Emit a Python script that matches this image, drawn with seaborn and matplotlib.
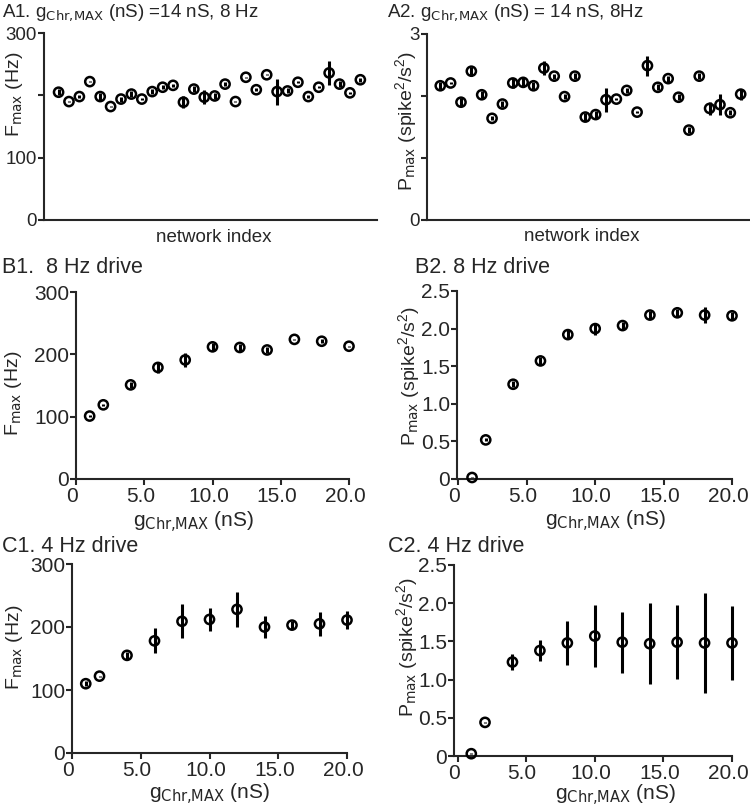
import numpy as np
import pandas as pd
import seaborn as sns
import matplotlib.pyplot as plt
from matplotlib.transforms import ScaledTranslation

# network sweep at g = 14 nS, 8 Hz
net_idx = list(range(1, 31))
a1_fmax = [205, 190, 198, 222, 198, 182, 194, 202, 194, 206, 213, 216, 189, 210, 197,
           199, 218, 190, 229, 209, 233, 206, 207, 221, 198, 213, 236, 218, 204, 225]
a1_err = [5, 1, 3, 1, 5, 1, 4, 5, 2, 4, 3, 2, 10, 5, 11,
          5, 3, 1, 1, 2, 1, 21, 4, 2, 2, 2, 19, 5, 2, 3]
a2_pmax = [2.165, 2.21, 1.90, 2.40, 2.02, 1.64, 1.87, 2.21, 2.22, 2.165, 2.45, 2.32, 1.99, 2.32, 1.66,
           1.70, 1.94, 1.95, 2.09, 1.74, 2.49, 2.14, 2.28, 1.98, 1.45, 2.32, 1.80, 1.86, 1.73, 2.03]
a2_err = [0.06, 0.01, 0.06, 0.07, 0.06, 0.03, 0.05, 0.08, 0.07, 0.06, 0.11, 0.04, 0.04, 0.05, 0.06,
          0.06, 0.19, 0.01, 0.04, 0.02, 0.16, 0.05, 0.05, 0.05, 0.05, 0.05, 0.10, 0.17, 0.04, 0.09]

# conductance sweeps
g_chr = [1, 2, 4, 6, 8, 10, 12, 14, 16, 18, 20]
b1_fmax = [101, 119, 151, 179, 191, 212, 211, 207, 224, 221, 213]
b1_err = [1, 2, 5, 9, 11, 6, 5, 5, 1, 3, 1]
b2_pmax = [0.02, 0.52, 1.26, 1.57, 1.92, 2.00, 2.04, 2.18, 2.21, 2.18, 2.17]
b2_err = [0.01, 0.02, 0.04, 0.05, 0.06, 0.08, 0.05, 0.05, 0.05, 0.11, 0.05]
c1_fmax = [110, 122, 155, 178, 209, 212, 228, 200, 203, 205, 211]
c1_err = [4, 1, 5, 20, 27, 18, 28, 17, 6, 19, 14]
c2_pmax = [0.03, 0.44, 1.23, 1.38, 1.48, 1.57, 1.49, 1.47, 1.49, 1.48, 1.48]
c2_err = [0.01, 0.01, 0.11, 0.14, 0.29, 0.40, 0.40, 0.53, 0.48, 0.66, 0.48]

sns.set_style('ticks')
plt.rcParams['font.family'] = ['Liberation Sans', 'DejaVu Sans']
plt.rcParams['mathtext.default'] = 'regular'
plt.rcParams['axes.linewidth'] = 1.5
plt.rcParams['xtick.major.width'] = 1.5
plt.rcParams['ytick.major.width'] = 1.5
plt.rcParams['xtick.major.size'] = 4
plt.rcParams['ytick.major.size'] = 4

W, H = 750, 808
fig = plt.figure(figsize=(7.5, 8.08), dpi=100)


def make_ax(left, top, right, bottom):
    return fig.add_axes([left / W, 1 - bottom / H, (right - left) / W, (bottom - top) / H])


def draw(ax, x, y, err):
    df = pd.DataFrame({'x': x, 'y': y, 'err': err})
    ax.errorbar(df['x'], df['y'], yerr=df['err'], fmt='none', ecolor='black',
                elinewidth=2.2, capsize=0, clip_on=False, zorder=2)
    sns.scatterplot(data=df, x='x', y='y', ax=ax, s=44, marker='o', color='black',
                    linewidth=1.8, clip_on=False, zorder=3, legend=False)
    ax.collections[-1].set_facecolor('none')
    ax.collections[-1].set_edgecolor('black')
    sns.despine(ax=ax)
    ax.tick_params(axis='y', pad=1)
    ax.tick_params(axis='x', pad=2)


def place_labels(ax, xlc, ylc):
    ax.xaxis.set_label_coords(*xlc)
    ax.yaxis.set_label_coords(*ylc)
    ax.xaxis.label.set_va('center')
    ax.yaxis.label.set_va('center')
    ax.yaxis.label.set_ha('center')


F_LAB = r'F$_{\rm max}$ (Hz)'
P_LAB = r'P$_{\rm max}$ (spike$^2$/s$^2$)'
G_LAB = r'g$_{\rm Chr{,}MAX}$ (nS)'

# A1
ax = make_ax(44, 33, 377, 220)
draw(ax, net_idx, a1_fmax, a1_err)
ax.set_xlim(-0.4, 31.6)
ax.set_ylim(0, 300)
ax.set_xticks([])
ax.set_yticks([0, 100, 200, 300])
ax.set_yticklabels(['0', '100', '', '300'], fontsize=13.5)
ax.set_xlabel('network index', fontsize=13.5)
ax.set_ylabel(F_LAB, fontsize=14)
place_labels(ax, (0.51, -0.095), (-0.09, 0.67))
fig.text(2 / W, 1 - 17 / H, r'A1. g$_{\rm Chr{,}MAX}$ (nS) =14 nS, 8 Hz', fontsize=13.5, va='baseline')

# A2
ax = make_ax(427, 34, 750, 220)
draw(ax, net_idx, a2_pmax, a2_err)
ax.set_xlim(-0.28, 30.9)
ax.set_ylim(0, 3)
ax.set_xticks([])
ax.set_yticks([0, 1, 2, 3])
ax.set_yticklabels(['0', '', '', '3'], fontsize=13.5)
ax.set_xlabel('network index', fontsize=13.5)
ax.set_ylabel(P_LAB, fontsize=14)
place_labels(ax, (0.48, -0.09), (-0.065, 0.53))
fig.text(387 / W, 1 - 17 / H, r'A2. g$_{\rm Chr{,}MAX}$ (nS) = 14 nS, 8Hz', fontsize=13.5, va='baseline')

panels = [
    ('B1.  8 Hz drive', (76, 292, 349, 479), (2, 273), b1_fmax, b1_err, 'F',
     (-0.23, 0.46), (0.43, -0.225), 0),
    ('B2. 8 Hz drive', (457, 291, 732, 479), (415, 273), b2_pmax, b2_err, 'P',
     (-0.175, 0.55), (0.54, -0.22), -0.1),
    ('C1. 4 Hz drive', (72, 564, 347, 753), (2, 552), c1_fmax, c1_err, 'F',
     (-0.21, 0.56), (0.50, -0.215), 0),
    ('C2. 4 Hz drive', (454, 565, 732, 756), (388, 552), c2_pmax, c2_err, 'P',
     (-0.17, 0.57), (0.58, -0.2), -0.26),
]

shift = ScaledTranslation(-4 / 100, 0, fig.dpi_scale_trans)
for title, box, tpos, vals, errs, kind, ylc, xlc, x0 in panels:
    ax = make_ax(*box)
    draw(ax, g_chr, vals, errs)
    ax.set_xlim(x0, 20)
    ax.set_xticks([0, 5, 10, 15, 20])
    ax.set_xticklabels(['0', '5.0', '10.0', '15.0', '20.0'], fontsize=15)
    for lab in ax.get_xticklabels():
        lab.set_transform(lab.get_transform() + shift)
    if kind == 'F':
        ax.set_ylim(0, 300)
        ax.set_yticks([0, 100, 200, 300])
        ax.set_yticklabels(['0', '100', '200', '300'], fontsize=15)
        ax.set_ylabel(F_LAB, fontsize=14)
    else:
        ax.set_ylim(0, 2.5)
        ax.set_yticks([0, 0.5, 1.0, 1.5, 2.0, 2.5])
        ax.set_yticklabels(['0', '0.5', '1.0', '1.5', '2.0', '2.5'], fontsize=15)
        ax.set_ylabel(P_LAB, fontsize=14)
    ax.set_xlabel(G_LAB, fontsize=15)
    place_labels(ax, xlc, ylc)
    fig.text(tpos[0] / W, 1 - tpos[1] / H, title, fontsize=15.5, va='baseline')

fig.savefig('out.png', dpi=100)
